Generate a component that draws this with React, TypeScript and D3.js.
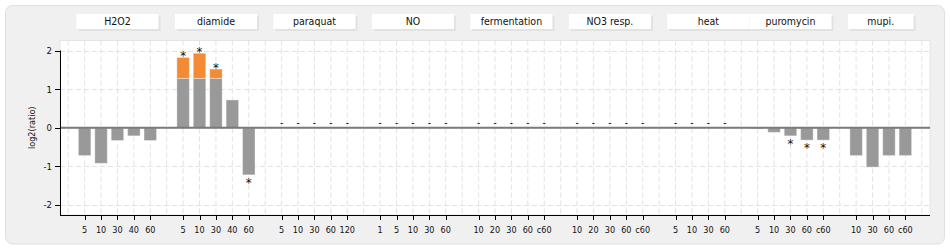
import React from "react";
import * as d3 from "d3";

// ---------- DATA ----------
const groupNames = ["H2O2", "diamide", "paraquat", "NO", "fermentation", "NO3 resp.", "heat", "puromycin", "mupi."];
const groupTimepoints: string[][] = [
  ["5", "10", "30", "40", "60"],
  ["5", "10", "30", "40", "60"],
  ["5", "10", "30", "60", "120"],
  ["1", "5", "10", "30", "60"],
  ["10", "20", "30", "60", "c60"],
  ["10", "20", "30", "60", "c60"],
  ["5", "10", "30", "60"],
  ["5", "10", "30", "60", "c60"],
  ["10", "30", "60", "c60"],
];
// grey (base) values, null = no data ("-")
const baseValues: (number | null)[][] = [
  [-0.72, -0.92, -0.33, -0.21, -0.33],
  [1.28, 1.28, 1.28, 0.72, -1.22],
  [null, null, null, null, null],
  [null, null, null, null, null],
  [null, null, null, null, null],
  [null, null, null, null, null],
  [null, null, null, null],
  [-0.03, -0.12, -0.21, -0.32, -0.32],
  [-0.72, -1.02, -0.72, -0.72],
];
// orange (additional) values stacked on top
const extraValues: number[][] = [
  [0, 0, 0, 0, 0],
  [0.54, 0.65, 0.24, 0, 0],
  [0, 0, 0, 0, 0],
  [0, 0, 0, 0, 0],
  [0, 0, 0, 0, 0],
  [0, 0, 0, 0, 0],
  [0, 0, 0, 0],
  [0, 0, 0, 0, 0],
  [0, 0, 0, 0],
];
const significant: boolean[][] = [
  [false, false, false, false, false],
  [true, true, true, false, true],
  [false, false, false, false, false],
  [false, false, false, false, false],
  [false, false, false, false, false],
  [false, false, false, false, false],
  [false, false, false, false],
  [false, false, true, true, true],
  [false, false, false, false],
];
// number of slots covered by each group's title box
const labelSpan = [5, 5, 5, 5, 5, 5, 5, 5, 4];
const yTicks = [-2, -1, 0, 1, 2];
const yLabel = "log2(ratio)";

// ---------- LAYOUT ----------
const W = 950;
const H = 250;
const plotL = 60;
const plotR = 930;
const plotT = 40.5;
const plotB = 215;
const FONT = "'DejaVu Sans Condensed', 'DejaVu Sans', sans-serif";
const GREY = "#999999";
const ORANGE = "#f38b36";

type Item = {
  slot: number;
  label: string;
  base: number | null;
  extra: number;
  sig: boolean;
};

const items: Item[] = [];
const groupStart: number[] = [];
{
  let s = 0;
  groupTimepoints.forEach((tps, g) => {
    groupStart.push(s);
    tps.forEach((tp, i) => {
      items.push({
        slot: s + i,
        label: tp,
        base: baseValues[g][i],
        extra: extraValues[g][i],
        sig: significant[g][i],
      });
    });
    s += tps.length + 1;
  });
}
const lastSlot = d3.max(items, (d) => d.slot) as number;

export default function App() {
  const x = d3.scaleLinear().domain([-1.5, lastSlot + 1.5]).range([plotL, plotR]);
  const y = d3.scaleLinear().domain([-2.26, 2.26]).range([plotB, plotT]);
  const slotW = x(1) - x(0);
  const barW = slotW * 0.76;
  const gridX = d3.range(-1, lastSlot + 2);

  return (
    <svg
      width={W}
      height={H}
      style={{ position: "absolute", left: 0, top: 0, background: "#fff" }}
      fontFamily={FONT}
    >
      {/* panel */}
      <rect x={5.5} y={5.5} width={939} height={238.5} rx={7} fill="#f0f0f0" stroke="#e0e0e0" />

      {/* group title boxes */}
      {groupNames.map((name, g) => {
        const x0 = x(groupStart[g] - 0.5);
        const w = labelSpan[g] * slotW;
        return (
          <g key={name}>
            <rect x={x0 + 2} y={16} width={w} height={15} fill="#e2e2e2" />
            <rect x={x0} y={14} width={w} height={15} fill="#ffffff" />
            <text x={x0 + w / 2} y={25} textAnchor="middle" fontSize={10.5} fill="#111">
              {name}
            </text>
          </g>
        );
      })}

      {/* plot background */}
      <rect x={plotL} y={plotT} width={plotR - plotL} height={plotB - plotT} fill="#fff" stroke="#e4e4e4" />

      {/* grid */}
      {gridX.map((i) => (
        <line
          key={"gx" + i}
          x1={x(i)}
          x2={x(i)}
          y1={plotT}
          y2={plotB}
          stroke="#e2e2e2"
          strokeDasharray="5,3"
        />
      ))}
      {yTicks.map((t) => (
        <line
          key={"gy" + t}
          x1={plotL}
          x2={plotR}
          y1={Math.round(y(t)) + 0.5}
          y2={Math.round(y(t)) + 0.5}
          stroke="#e2e2e2"
          strokeDasharray="5,3"
        />
      ))}

      {/* bars */}
      {items.map((d, i) =>
        d.base === null ? null : (
          <g key={"b" + i}>
            <rect
              x={x(d.slot) - barW / 2}
              y={y(Math.max(0, d.base))}
              width={barW}
              height={Math.abs(y(d.base) - y(0))}
              fill={GREY}
              stroke="rgba(255,255,255,0.35)"
            />
            {d.extra > 0 && (
              <rect
                x={x(d.slot) - barW / 2}
                y={y(d.base + d.extra)}
                width={barW}
                height={y(d.base) - y(d.base + d.extra)}
                fill={ORANGE}
                stroke="rgba(255,255,255,0.35)"
              />
            )}
          </g>
        )
      )}

      {/* zero line */}
      <line x1={plotL} x2={plotR} y1={y(0)} y2={y(0)} stroke="#7a7a7a" strokeWidth={1.8} />

      {/* missing markers */}
      {items.map((d, i) =>
        d.base === null ? (
          <text key={"m" + i} x={x(d.slot)} y={y(0) - 1.5} textAnchor="middle" fontSize={10} fill="#111">
            -
          </text>
        ) : null
      )}

      {/* significance asterisks */}
      {items.map((d, i) => {
        if (!d.sig || d.base === null) return null;
        const v = d.base + d.extra;
        const yy = v >= 0 ? y(v) + 2.7 : y(v) + 12.3;
        return (
          <text key={"s" + i} x={x(d.slot)} y={yy} textAnchor="middle" fontSize={13} fill="#111">
            *
          </text>
        );
      })}

      {/* y axis */}
      <line x1={plotL + 0.5} x2={plotL + 0.5} y1={y(2)} y2={plotB} stroke="#000" />
      {yTicks.map((t) => (
        <g key={"yt" + t}>
          <line x1={plotL - 5} x2={plotL} y1={Math.round(y(t)) + 0.5} y2={Math.round(y(t)) + 0.5} stroke="#000" />
          <text x={plotL - 8} y={y(t) + 3.5} textAnchor="end" fontSize={9.5} fill="#111">
            {t}
          </text>
        </g>
      ))}
      <text
        transform={`translate(35,${y(0)}) rotate(-90)`}
        textAnchor="middle"
        fontSize={9}
        fill="#111"
      >
        {yLabel}
      </text>

      {/* x axis */}
      <line x1={plotL} x2={plotR} y1={plotB + 0.5} y2={plotB + 0.5} stroke="#000" />
      {items.map((d, i) => (
        <g key={"xt" + i}>
          <line
            x1={Math.round(x(d.slot)) + 0.5}
            x2={Math.round(x(d.slot)) + 0.5}
            y1={plotB}
            y2={plotB + 5}
            stroke="#000"
          />
          <text x={x(d.slot)} y={232.5} textAnchor="middle" fontSize={9} fill="#111">
            {d.label}
          </text>
        </g>
      ))}
    </svg>
  );
}
